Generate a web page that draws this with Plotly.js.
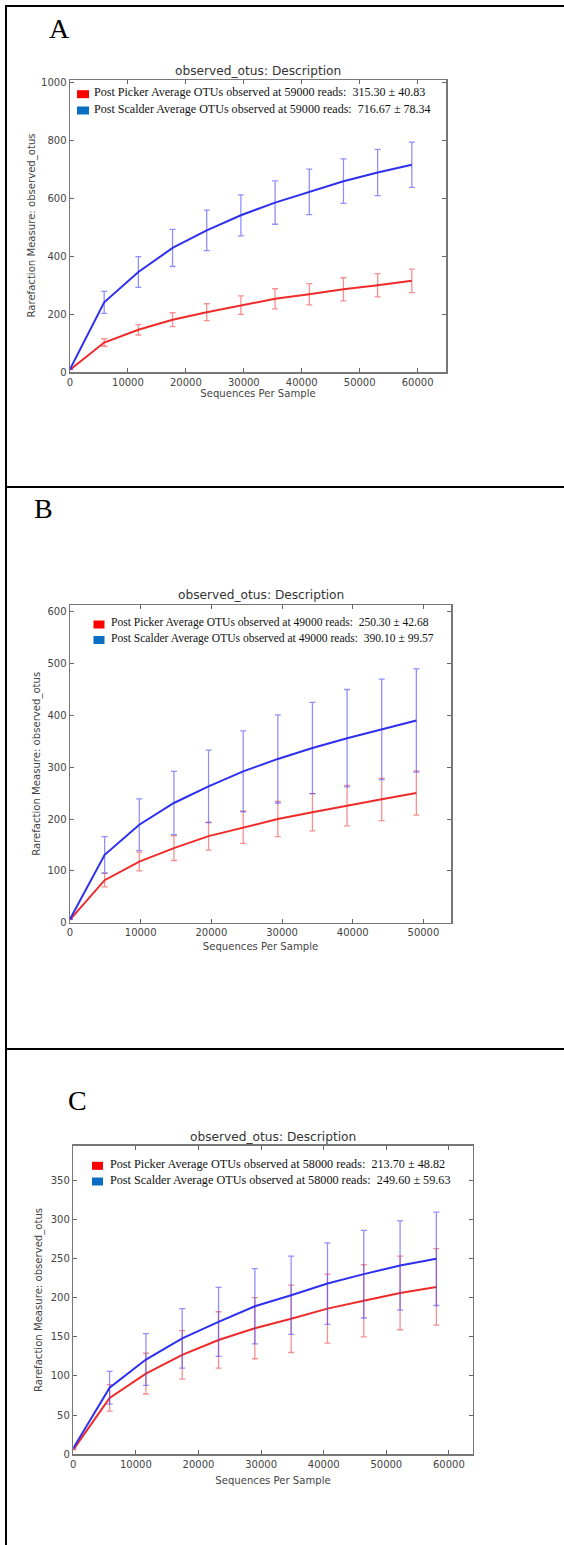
<!DOCTYPE html>
<html>
<head>
<meta charset="utf-8">
<script src="https://cdn.plot.ly/plotly-3.0.1.min.js"></script>
<style>
html,body{margin:0;padding:0;background:#fff;}
#chart{width:564px;height:1545px;}
</style>
</head>
<body>
<div id="chart"></div>
<script>
// ---------- Data ----------
// Panel A
const depthA = [10, 5900, 11800, 17700, 23600, 29500, 35400, 41300, 47200, 53100, 59000];
const pickerA = [8, 102, 146, 181, 207, 231, 253, 269, 286, 300, 315.30];
const pickerErrA = [0, 13, 18, 24, 29, 32, 35, 37, 40, 40, 40.83];
const scalderA = [10, 241, 346, 429, 490, 542, 586, 623, 660, 690, 716.67];
const scalderErrA = [0, 38, 53, 64, 70, 71, 75, 79, 77, 80, 78.34];
const xTicksA = [0, 10000, 20000, 30000, 40000, 50000, 60000];
const yTicksA = [0, 200, 400, 600, 800, 1000];

// Panel B
const depthB = [10, 4900, 9800, 14700, 19600, 24500, 29400, 34300, 39200, 44100, 49000];
const pickerB = [6, 82, 118, 144, 167, 184, 200, 213, 226, 238, 250.30];
const pickerErrB = [0, 13, 18, 24, 27, 31, 34, 36, 39, 41, 42.68];
const scalderB = [7, 131, 189, 231, 263, 292, 316, 337, 356, 373, 390.10];
const scalderErrB = [0, 35, 50, 61, 70, 78, 85, 88, 94, 97, 99.57];
const xTicksB = [0, 10000, 20000, 30000, 40000, 50000];
const yTicksB = [0, 100, 200, 300, 400, 500, 600];

// Panel C
const depthC = [10, 5800, 11600, 17400, 23200, 29000, 34800, 40600, 46400, 52200, 58000];
const pickerC = [6, 72, 103, 127, 146, 161, 173, 186, 196, 206, 213.70];
const pickerErrC = [0, 17, 26, 31, 36, 39, 43, 44, 46, 47, 48.82];
const scalderC = [8, 85, 121, 148, 169, 189, 203, 218, 230, 241, 249.60];
const scalderErrC = [0, 21, 33, 38, 44, 48, 50, 52, 56, 57, 59.63];
const xTicksC = [0, 10000, 20000, 30000, 40000, 50000, 60000];
const yTicksC = [0, 50, 100, 150, 200, 250, 300, 350];

const panelLetters = ['A', 'B', 'C'];
const seriesNames = ['Post Picker', 'Post Scalder'];
const chartTitle = 'observed_otus: Description';
const xTitle = 'Sequences Per Sample';
const yTitle = 'Rarefaction Measure: observed_otus';

// ---------- Layout geometry (pixels) ----------
const W = 564, H = 1545;
const px = v => v / W;
const py = v => 1 - v / H;

const panels = [
  {depth: depthA, picker: pickerA, pErr: pickerErrA, scalder: scalderA, sErr: scalderErrA,
   xTicks: xTicksA, yTicks: yTicksA, xRange: [0, 64900], yRange: [0, 1010],
   L: 70, R: 446, T: 80, B: 372, titleY: 71, xStandoff: 3.5, yTitleX: 31.5,
   letter: {x: 47, base: 38.5}, leg: {sqL: 77, sqR: 89, textX: 92.5, base1: 97.7, base2: 114, fs: 12.05}},
  {depth: depthB, picker: pickerB, pErr: pickerErrB, scalder: scalderB, sErr: scalderErrB,
   xTicks: xTicksB, yTicks: yTicksB, xRange: [0, 53900], yRange: [0, 613],
   L: 70, R: 451, T: 605, B: 922.7, titleY: 595.5, xStandoff: 5, yTitleX: 37,
   letter: {x: 31.5, base: 519}, leg: {sqL: 93.5, sqR: 104.5, textX: 109.5, base1: 628, base2: 643.5, fs: 11.55}},
  {depth: depthC, picker: pickerC, pErr: pickerErrC, scalder: scalderC, sErr: scalderErrC,
   xTicks: xTicksC, yTicks: yTicksC, xRange: [0, 63800], yRange: [0, 394],
   L: 73.3, R: 472.7, T: 1145.7, B: 1454.3, titleY: 1137, xStandoff: 7.5, yTitleX: 39,
   letter: {x: 65.5, base: 1111}, leg: {sqL: 92, sqR: 103, textX: 108.5, base1: 1169.3, base2: 1185, fs: 12.2}}
];

const red = '#f02a2a', blue = '#2f2ff0';
const redErr = 'rgba(240,70,70,0.6)', blueErr = 'rgba(70,70,250,0.6)';
const legRed = '#ff0000', legBlue = '#0a6ec2';

const data = [];
const layout = {
  width: W, height: H,
  margin: {l: 0, r: 0, t: 0, b: 0},
  paper_bgcolor: '#fff', plot_bgcolor: '#fff',
  showlegend: false,
  annotations: [], shapes: []
};

const sans = 'DejaVu Sans, Bitstream Vera Sans, sans-serif';
const serif = 'Liberation Serif, Times New Roman, serif';

panels.forEach((p, i) => {
  const n = i === 0 ? '' : String(i + 1);
  const xa = 'x' + n, ya = 'y' + n;
  const axisCommon = {
    ticks: 'inside', ticklen: 4, tickwidth: 1, tickcolor: '#666',
    showline: true, linecolor: '#777', linewidth: 1.5, mirror: 'allticks',
    showgrid: false, zeroline: false, fixedrange: true,
    tickfont: {family: sans, size: 10, color: '#444'}
  };
  layout['xaxis' + n] = Object.assign({}, axisCommon, {
    domain: [px(p.L), px(p.R)], range: p.xRange, anchor: ya,
    tickmode: 'array', tickvals: p.xTicks, ticktext: p.xTicks.map(String),
    title: {text: xTitle, standoff: p.xStandoff, font: {family: sans, size: 10.1, color: '#444'}}
  });
  layout['yaxis' + n] = Object.assign({}, axisCommon, {
    domain: [py(p.B), py(p.T)], range: p.yRange, anchor: xa,
    tickmode: 'array', tickvals: p.yTicks, ticktext: p.yTicks.map(String)
  });

  data.push({
    x: p.depth, y: p.picker, xaxis: xa, yaxis: ya, type: 'scatter', mode: 'lines',
    name: seriesNames[0], line: {color: red, width: 2},
    error_y: {type: 'data', array: p.pErr, visible: true, color: redErr, thickness: 1.3, width: 3}
  });
  data.push({
    x: p.depth, y: p.scalder, xaxis: xa, yaxis: ya, type: 'scatter', mode: 'lines',
    name: seriesNames[1], line: {color: blue, width: 2},
    error_y: {type: 'data', array: p.sErr, visible: true, color: blueErr, thickness: 1.3, width: 3}
  });

  // y-axis title (rotated)
  layout.annotations.push({
    xref: 'paper', yref: 'paper', x: px(p.yTitleX), y: py((p.T + p.B) / 2),
    xanchor: 'center', yanchor: 'middle', showarrow: false, textangle: -90,
    text: yTitle, font: {family: sans, size: 10.1, color: '#444'}
  });
  // subplot title
  layout.annotations.push({
    xref: 'paper', yref: 'paper', x: px((p.L + p.R) / 2), y: py(p.titleY),
    xanchor: 'center', yanchor: 'middle', showarrow: false,
    text: chartTitle, font: {family: sans, size: 12.2, color: '#333'}
  });
  // panel letter
  layout.annotations.push({
    xref: 'paper', yref: 'paper', x: px(p.letter.x), y: py(p.letter.base + 7),
    xanchor: 'left', yanchor: 'bottom', showarrow: false,
    text: panelLetters[i], font: {family: serif, size: 28, color: '#000'}
  });
  // legend entries
  const last = p.depth.length - 1;
  const entries = [
    {name: seriesNames[0], v: p.picker[last], e: p.pErr[last], c: legRed, base: p.leg.base1},
    {name: seriesNames[1], v: p.scalder[last], e: p.sErr[last], c: legBlue, base: p.leg.base2}
  ];
  entries.forEach(en => {
    const fs = p.leg.fs;
    layout.shapes.push({
      type: 'rect', xref: 'paper', yref: 'paper',
      x0: px(p.leg.sqL), x1: px(p.leg.sqR), y0: py(en.base + 0.5), y1: py(en.base - 7.5),
      fillcolor: en.c, line: {width: 0}
    });
    layout.annotations.push({
      xref: 'paper', yref: 'paper', x: px(p.leg.textX - 1), y: py(en.base + 0.216 * fs + 1),
      xanchor: 'left', yanchor: 'bottom', showarrow: false,
      text: en.name + ' Average OTUs observed at ' + p.depth[last] + ' reads:  ' +
            en.v.toFixed(2) + ' \u00b1 ' + en.e.toFixed(2),
      font: {family: serif, size: fs, color: '#111'}
    });
  });
});

// outer frame lines of the figure
const frameLine = {color: '#000', width: 2};
layout.shapes.push({type: 'line', xref: 'paper', yref: 'paper', x0: px(6), x1: px(6), y0: py(5), y1: py(H), line: frameLine});
[6, 487, 1049].forEach(yy => {
  layout.shapes.push({type: 'line', xref: 'paper', yref: 'paper', x0: px(5), x1: px(W), y0: py(yy), y1: py(yy), line: frameLine});
});

Plotly.newPlot('chart', data, layout, {staticPlot: true, displayModeBar: false});
</script>
</body>
</html>
